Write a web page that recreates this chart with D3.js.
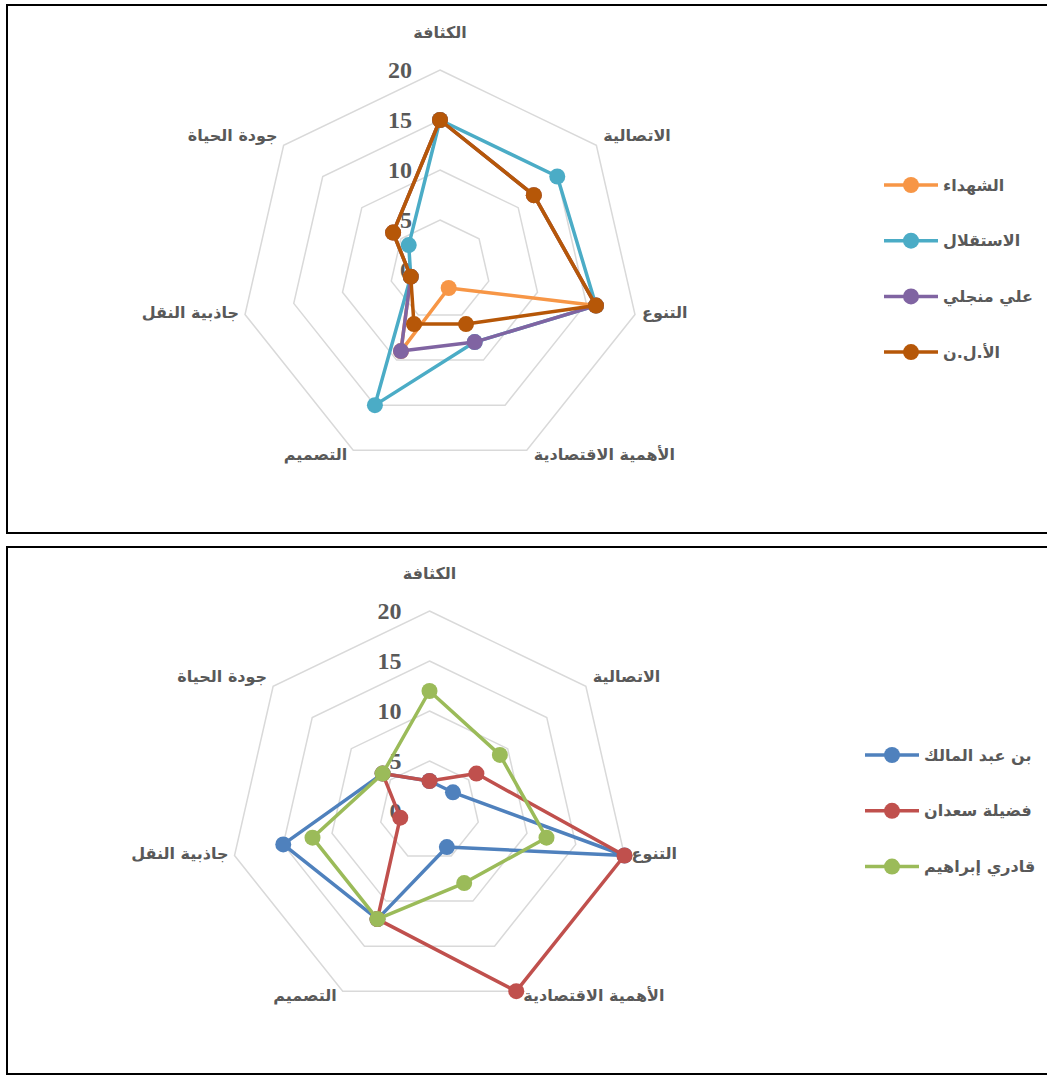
<!DOCTYPE html>
<html lang="ar">
<head>
<meta charset="utf-8">
<script src="https://cdn.jsdelivr.net/npm/d3@7"></script>
<style>
  html, body { margin: 0; padding: 0; background: #fff; }
  svg { display: block; }
  .axis-label { font-family: "DejaVu Sans", sans-serif; font-weight: bold; fill: #595959; }
  .tick-label { font-family: "Liberation Serif", "Times New Roman", serif; font-weight: bold; fill: #595959; }
  .legend-label { font-family: "DejaVu Sans", sans-serif; font-weight: bold; fill: #595959; }
</style>
</head>
<body>
<svg id="chart" width="1047" height="1075"></svg>
<script>
// Radar axes (clockwise from the top)
const axes = ["الكثافة", "الاتصالية", "التنوع", "الأهمية الاقتصادية", "التصميم", "جاذبية النقل", "جودة الحياة"];
const ticks = [0, 5, 10, 15, 20];

// First panel: neighbourhood scores
const panel1Names = ["الشهداء", "الاستقلال", "علي منجلي", "الأ.ل.ن"];
const shuhada     = [15, 12, 16, 2, 9, 3, 6];
const istiqlal    = [15, 15, 16, 8, 15, 3, 4];
const aliMendjeli = [15, 12, 16, 8, 9, 3, 6];
const aln         = [15, 12, 16, 6, 6, 3, 6];

// Second panel
const panel2Names = ["بن عبد المالك", "فضيلة سعدان", "قادري إبراهيم"];
const benAbdelmalek = [3, 3, 20, 4, 12, 15, 6];
const fadilaSaadane = [3, 6, 20, 20, 12, 3, 6];
const kadriBrahim   = [12, 9, 12, 8, 12, 12, 6];

const panels = [
  {
    box: { x: 7, y: 5, w: 1050, h: 528 },
    cx: 440, cy: 270,
    names: panel1Names,
    series: [shuhada, istiqlal, aliMendjeli, aln],
    colors: ["#F79646", "#4BACC6", "#8064A2", "#B65708"],
    legend: { x1: 884, x2: 938, y0: 185, step: 55.7 }
  },
  {
    box: { x: 7, y: 547, w: 1050, h: 527 },
    cx: 429.5, cy: 811,
    names: panel2Names,
    series: [benAbdelmalek, fadilaSaadane, kadriBrahim],
    colors: ["#4F81BD", "#C0504D", "#9BBB59"],
    legend: { x1: 865, x2: 919, y0: 755, step: 55.8 }
  }
];

const R = 200;
const svg = d3.select("#chart");
const rScale = d3.scaleLinear().domain([0, 20]).range([0, R]);
const angleOf = i => i * 2 * Math.PI / axes.length;

panels.forEach(p => {
  // frame
  svg.append("rect")
    .attr("x", p.box.x).attr("y", p.box.y)
    .attr("width", p.box.w).attr("height", p.box.h)
    .attr("fill", "none").attr("stroke", "#000").attr("stroke-width", 2);

  const g = svg.append("g").attr("transform", `translate(${p.cx},${p.cy})`);

  // concentric heptagon grid
  const ring = d3.lineRadial()
    .angle((d, i) => angleOf(i))
    .radius(d => rScale(d))
    .curve(d3.curveLinearClosed);
  ticks.filter(t => t > 0).forEach(t => {
    g.append("path")
      .attr("d", ring(axes.map(() => t)))
      .attr("fill", "none").attr("stroke", "#D9D9D9").attr("stroke-width", 1.5);
  });

  // tick values
  g.selectAll(".tick-label").data(ticks).join("text")
    .attr("class", "tick-label")
    .attr("x", -28)
    .attr("y", d => -rScale(d))
    .attr("dy", "0.35em")
    .attr("text-anchor", "end")
    .attr("font-size", 24)
    .text(d => d);

  // axis titles placed just outside the outer ring
  axes.forEach((name, i) => {
    const a = angleOf(i) - Math.PI / 2;
    const c = Math.cos(a), s = Math.sin(a);
    const vx = rScale(20) * c, vy = rScale(20) * s;
    let x, y, anchor;
    if (Math.abs(c) < 0.1) {
      x = vx; y = vy - 38; anchor = "middle";
    } else {
      x = vx + (c > 0 ? 7 : -6);
      y = vy + (s < -0.3 ? -10 : (s > 0.5 ? 4 : -2));
      anchor = c > 0 ? "start" : "end";
    }
    g.append("text")
      .attr("class", "axis-label")
      .attr("x", x).attr("y", y)
      .attr("dy", "0.35em")
      .attr("text-anchor", anchor)
      .attr("font-size", 16)
      .text(name);
  });

  // series polygons and markers, first series at the bottom
  const poly = d3.lineRadial()
    .angle((d, i) => angleOf(i))
    .radius(d => rScale(d))
    .curve(d3.curveLinearClosed);

  p.series.forEach((vals, k) => {
    const sg = g.append("g");
    sg.append("path")
      .attr("d", poly(vals))
      .attr("fill", "none")
      .attr("stroke", p.colors[k])
      .attr("stroke-width", 3.5)
      .attr("stroke-linejoin", "round");
    sg.selectAll("circle").data(vals).join("circle")
      .attr("cx", (d, i) => rScale(d) * Math.cos(angleOf(i) - Math.PI / 2))
      .attr("cy", (d, i) => rScale(d) * Math.sin(angleOf(i) - Math.PI / 2))
      .attr("r", 8)
      .attr("fill", p.colors[k]);
  });

  // legend
  const L = p.legend;
  p.names.forEach((name, k) => {
    const y = L.y0 + k * L.step;
    svg.append("line")
      .attr("x1", L.x1).attr("x2", L.x2).attr("y1", y).attr("y2", y)
      .attr("stroke", p.colors[k]).attr("stroke-width", 3.5);
    svg.append("circle")
      .attr("cx", (L.x1 + L.x2) / 2).attr("cy", y).attr("r", 8)
      .attr("fill", p.colors[k]);
    svg.append("text")
      .attr("class", "legend-label")
      .attr("x", L.x2 + 5).attr("y", y)
      .attr("dy", "0.35em")
      .attr("text-anchor", "start")
      .attr("font-size", 16)
      .text(name);
  });
});
</script>
</body>
</html>
